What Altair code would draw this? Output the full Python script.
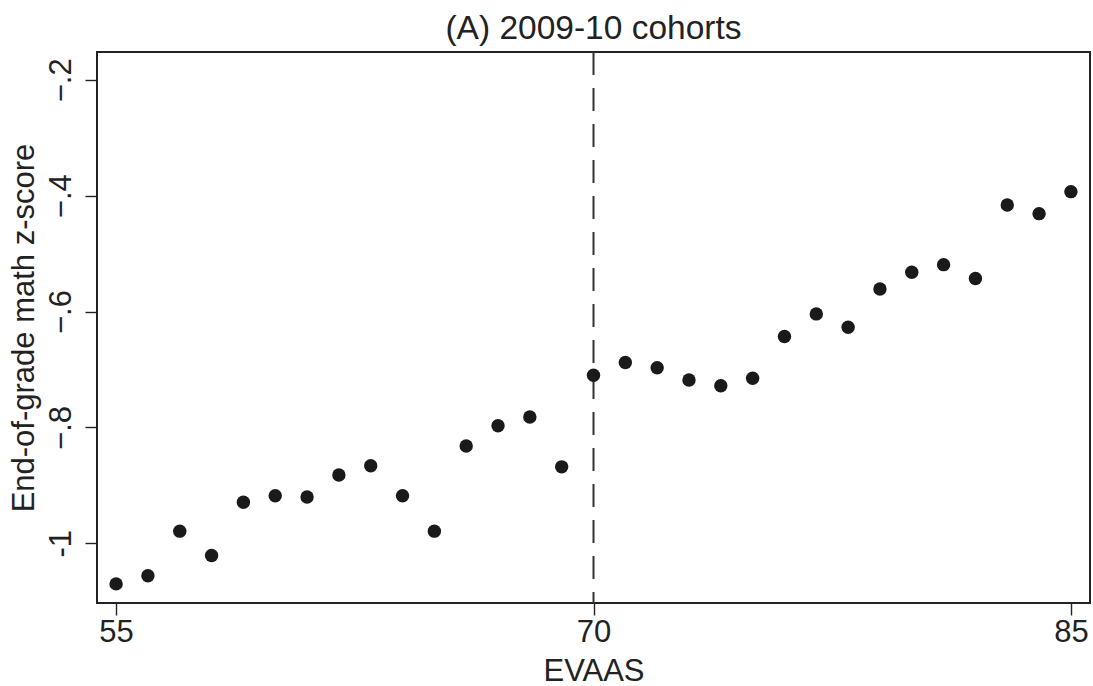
import altair as alt
import pandas as pd

title_text = ["(A) 2009-10 cohorts"]
evaas = list(range(55, 86))
zscore = [-1.070, -1.056, -0.979, -1.021, -0.929, -0.918, -0.920, -0.882, -0.866, -0.918,
          -0.979, -0.832, -0.797, -0.782, -0.868, -0.710, -0.688, -0.697, -0.718, -0.728,
          -0.715, -0.643, -0.604, -0.627, -0.561, -0.532, -0.519, -0.543, -0.416, -0.431,
          -0.393]
cutoff = [70]
x_ticks = [55, 70, 85]
y_ticks = [-1.0, -0.8, -0.6, -0.4, -0.2]

df = pd.DataFrame({"EVAAS": evaas, "z": zscore})
cut_df = pd.DataFrame({"cut": cutoff})
title_df = pd.DataFrame({"t": title_text})

FONT = "Liberation Sans"
W, H = 993, 551

xscale = alt.Scale(domain=[54.4, 85.6], nice=False, zero=False)
yscale = alt.Scale(domain=[-1.103, -0.152], nice=False, zero=False)

points = alt.Chart(df).mark_circle(size=180, color="#1a1a1a", opacity=1).encode(
    x=alt.X("EVAAS:Q", scale=xscale,
            axis=alt.Axis(values=x_ticks, title="EVAAS", grid=False, domain=False,
                          tickSize=12, tickColor="#222", tickWidth=1.4,
                          labelFont=FONT, labelFontSize=31, labelColor="#222",
                          labelPadding=2, labelFlush=False,
                          titleFont=FONT, titleFontSize=31, titleFontWeight="normal",
                          titleColor="#222", titleBaseline="alphabetic",
                          titleY=77, titleX=W / 2)),
    y=alt.Y("z:Q", scale=yscale,
            axis=alt.Axis(values=y_ticks, title="End-of-grade math z-score", grid=False,
                          domain=False, tickSize=12, tickColor="#222", tickWidth=1.4,
                          labelFont=FONT, labelFontSize=31, labelColor="#222",
                          labelAngle=270, labelAlign="center", labelBaseline="alphabetic",
                          labelPadding=15, labelFlush=False,
                          labelExpr="datum.value == -1 ? '-1' : replace(format(datum.value, '.1f'), '0.', '.')",
                          titleFont=FONT, titleFontSize=31, titleFontWeight="normal",
                          titleColor="#222", titleAngle=270, titleBaseline="alphabetic",
                          titleAlign="center", titleX=-64, titleY=H / 2)),
)

rule = alt.Chart(cut_df).mark_rule(color="#333", strokeWidth=2, strokeDash=[23, 13]).encode(
    x=alt.X("cut:Q", scale=xscale)
)

title = alt.Chart(title_df).mark_text(
    font=FONT, fontSize=33.5, color="#222", align="center", baseline="alphabetic"
).encode(text="t:N", x=alt.value(W / 2), y=alt.value(-13))

chart = alt.layer(rule, points, title).properties(
    width=W, height=H,
    background="white",
    autosize=alt.AutoSizeParams(type="none"),
    padding={"left": 97, "top": 52, "right": 3, "bottom": 83},
).configure_view(stroke="#222", strokeWidth=2)

chart.save("out.html", embed_options={"renderer": "svg", "actions": False})
